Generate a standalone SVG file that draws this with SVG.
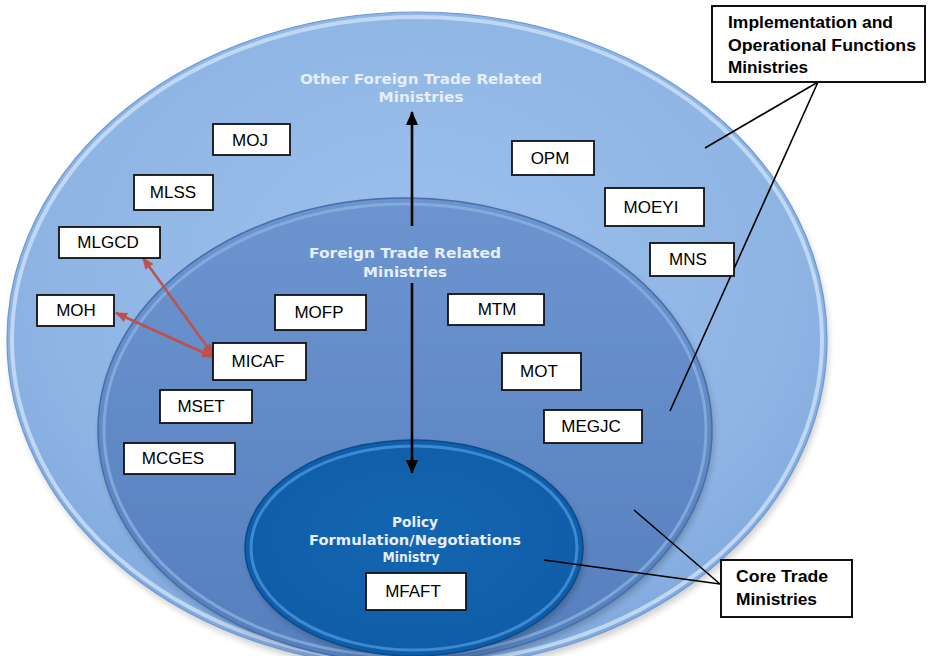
<svg xmlns="http://www.w3.org/2000/svg" width="930" height="656" viewBox="0 0 930 656">
<defs>
<radialGradient id="gOuter" cx="0.5" cy="0.4" r="0.62">
<stop offset="0" stop-color="#9dc1ed"/>
<stop offset="0.75" stop-color="#8eb4e4"/>
<stop offset="1" stop-color="#80a8dc"/>
</radialGradient>
<linearGradient id="gMid" x1="0" y1="0" x2="0" y2="1">
<stop offset="0" stop-color="#6c95d0"/>
<stop offset="1" stop-color="#557fbd"/>
</linearGradient>
<radialGradient id="gIn" cx="0.5" cy="0.45" r="0.6">
<stop offset="0" stop-color="#1466b2"/>
<stop offset="1" stop-color="#0f5ca6"/>
</radialGradient>
<filter id="sh" x="-10%" y="-10%" width="120%" height="130%">
<feGaussianBlur stdDeviation="3"/>
</filter>
<marker id="ahB" markerUnits="userSpaceOnUse" markerWidth="14" markerHeight="14" viewBox="0 0 14 14" refX="13" refY="7" orient="auto">
<path d="M0,1 L14,7 L0,13 Z" fill="#000"/>
</marker>
<marker id="ahR" markerUnits="userSpaceOnUse" markerWidth="12" markerHeight="12" viewBox="0 0 12 12" refX="11" refY="6" orient="auto-start-reverse">
<path d="M0,1 L12,6 L0,11 Z" fill="#c0504d"/>
</marker>
<style>
.box{fill:#fff;stroke:#111;stroke-width:1.8}
.bt{font-family:"Liberation Sans",Arial,sans-serif;font-size:17px;fill:#000;text-anchor:middle}
.lbl{font-family:"DejaVu Sans","Liberation Sans",sans-serif;font-weight:bold;font-size:14.5px;fill:#e6eefa;text-anchor:middle}
.cb{fill:#fff;stroke:#111;stroke-width:2}
.ct{font-family:"Liberation Sans",Arial,sans-serif;font-weight:bold;font-size:16px;fill:#000}
.ln{stroke:#000;stroke-width:1.6;fill:none}
.red{stroke:#c0504d;stroke-width:2.5;fill:none}
</style>
</defs>
<rect width="930" height="656" fill="#fff"/>

<g id="outer-ellipse">
<ellipse cx="419" cy="345" rx="410" ry="328" fill="#000" opacity="0.18" filter="url(#sh)"/>
<ellipse cx="417" cy="340" rx="410" ry="328" fill="url(#gOuter)" stroke="#6e99d1" stroke-width="1.2"/>
<ellipse cx="417" cy="340" rx="405" ry="323" fill="none" stroke="#c6dcf5" stroke-width="4" opacity="0.9"/>
<text class="lbl" x="421" y="84" textLength="242" lengthAdjust="spacingAndGlyphs">Other Foreign Trade Related</text>
<text class="lbl" x="421" y="102" textLength="85" lengthAdjust="spacingAndGlyphs">Ministries</text>
</g>

<g id="middle-ellipse">
<ellipse cx="407" cy="434" rx="307" ry="232" fill="#000" opacity="0.2" filter="url(#sh)"/>
<ellipse cx="405" cy="430" rx="307" ry="232" fill="url(#gMid)" stroke="#466ea8" stroke-width="1.5"/>
<ellipse cx="405" cy="430" rx="301" ry="226" fill="none" stroke="#8db1e2" stroke-width="3" opacity="0.75"/>
<text class="lbl" x="405" y="258" textLength="192" lengthAdjust="spacingAndGlyphs">Foreign Trade  Related</text>
<text class="lbl" x="405" y="277" textLength="84" lengthAdjust="spacingAndGlyphs">Ministries</text>
</g>

<g id="inner-ellipse">
<ellipse cx="416" cy="552" rx="169" ry="108" fill="#000" opacity="0.22" filter="url(#sh)"/>
<ellipse cx="414" cy="548" rx="169" ry="108" fill="url(#gIn)" stroke="#0b4a8c" stroke-width="1.5"/>
<ellipse cx="414" cy="548" rx="163" ry="102" fill="none" stroke="#4592db" stroke-width="3" opacity="0.85"/>
<text class="lbl" x="415" y="527" textLength="46" lengthAdjust="spacingAndGlyphs">Policy</text>
<text class="lbl" x="415" y="545" textLength="212" lengthAdjust="spacingAndGlyphs">Formulation/Negotiations</text>
<text class="lbl" x="411" y="562" textLength="57" lengthAdjust="spacingAndGlyphs">Ministry</text>
</g>

<g id="connectors">
<line x1="412" y1="226" x2="412" y2="112" stroke="#000" stroke-width="2.6" marker-end="url(#ahB)"/>
<line x1="412" y1="283" x2="412" y2="473" stroke="#000" stroke-width="2.6" marker-end="url(#ahB)"/>
<line class="red" x1="213" y1="355" x2="143" y2="258" marker-start="url(#ahR)" marker-end="url(#ahR)"/>
<line class="red" x1="213" y1="357" x2="116" y2="313" marker-start="url(#ahR)" marker-end="url(#ahR)"/>
<line class="ln" x1="818" y1="82" x2="705" y2="148"/>
<line class="ln" x1="818" y1="82" x2="670" y2="411"/>
<line class="ln" x1="720" y1="584" x2="634" y2="510"/>
<line class="ln" x1="720" y1="584" x2="544" y2="560"/>
</g>

<g id="MOJ"><rect class="box" x="213" y="124" width="77" height="31"/><text class="bt" x="250" y="146">MOJ</text></g>
<g id="MLSS"><rect class="box" x="134" y="175" width="79" height="35"/><text class="bt" x="173" y="198">MLSS</text></g>
<g id="MLGCD"><rect class="box" x="59" y="227" width="101" height="31"/><text class="bt" x="108" y="248">MLGCD</text></g>
<g id="MOH"><rect class="box" x="37" y="295" width="77" height="31"/><text class="bt" x="76" y="316">MOH</text></g>
<g id="MOFP"><rect class="box" x="275" y="295" width="91" height="35"/><text class="bt" x="319" y="318">MOFP</text></g>
<g id="MTM"><rect class="box" x="448" y="294" width="96" height="31"/><text class="bt" x="497" y="315">MTM</text></g>
<g id="OPM"><rect class="box" x="512" y="141" width="82" height="34"/><text class="bt" x="550" y="164">OPM</text></g>
<g id="MOEYI"><rect class="box" x="605" y="188" width="99" height="38"/><text class="bt" x="651" y="213">MOEYI</text></g>
<g id="MNS"><rect class="box" x="650" y="243" width="84" height="33"/><text class="bt" x="688" y="265">MNS</text></g>
<g id="MICAF"><rect class="box" x="213" y="343" width="93" height="37"/><text class="bt" x="258" y="367">MICAF</text></g>
<g id="MSET"><rect class="box" x="160" y="390" width="92" height="33"/><text class="bt" x="201" y="412">MSET</text></g>
<g id="MCGES"><rect class="box" x="124" y="443" width="111" height="31"/><text class="bt" x="173" y="464">MCGES</text></g>
<g id="MOT"><rect class="box" x="502" y="353" width="79" height="37"/><text class="bt" x="539" y="377">MOT</text></g>
<g id="MEGJC"><rect class="box" x="544" y="410" width="98" height="33"/><text class="bt" x="591" y="432">MEGJC</text></g>
<g id="MFAFT"><rect class="box" x="366" y="573" width="100" height="37"/><text class="bt" x="413" y="597">MFAFT</text></g>

<g id="implementation-box">
<rect class="cb" x="712" y="6" width="213" height="76"/>
<text class="ct" x="728" y="28" textLength="165" lengthAdjust="spacingAndGlyphs">Implementation and</text>
<text class="ct" x="728" y="51" textLength="188" lengthAdjust="spacingAndGlyphs">Operational Functions</text>
<text class="ct" x="728" y="73" textLength="80" lengthAdjust="spacingAndGlyphs">Ministries</text>
</g>

<g id="core-box">
<rect class="cb" x="721" y="560" width="131" height="57"/>
<text class="ct" x="736" y="582" textLength="92" lengthAdjust="spacingAndGlyphs">Core Trade</text>
<text class="ct" x="736" y="605" textLength="81" lengthAdjust="spacingAndGlyphs">Ministries</text>
</g>
</svg>
